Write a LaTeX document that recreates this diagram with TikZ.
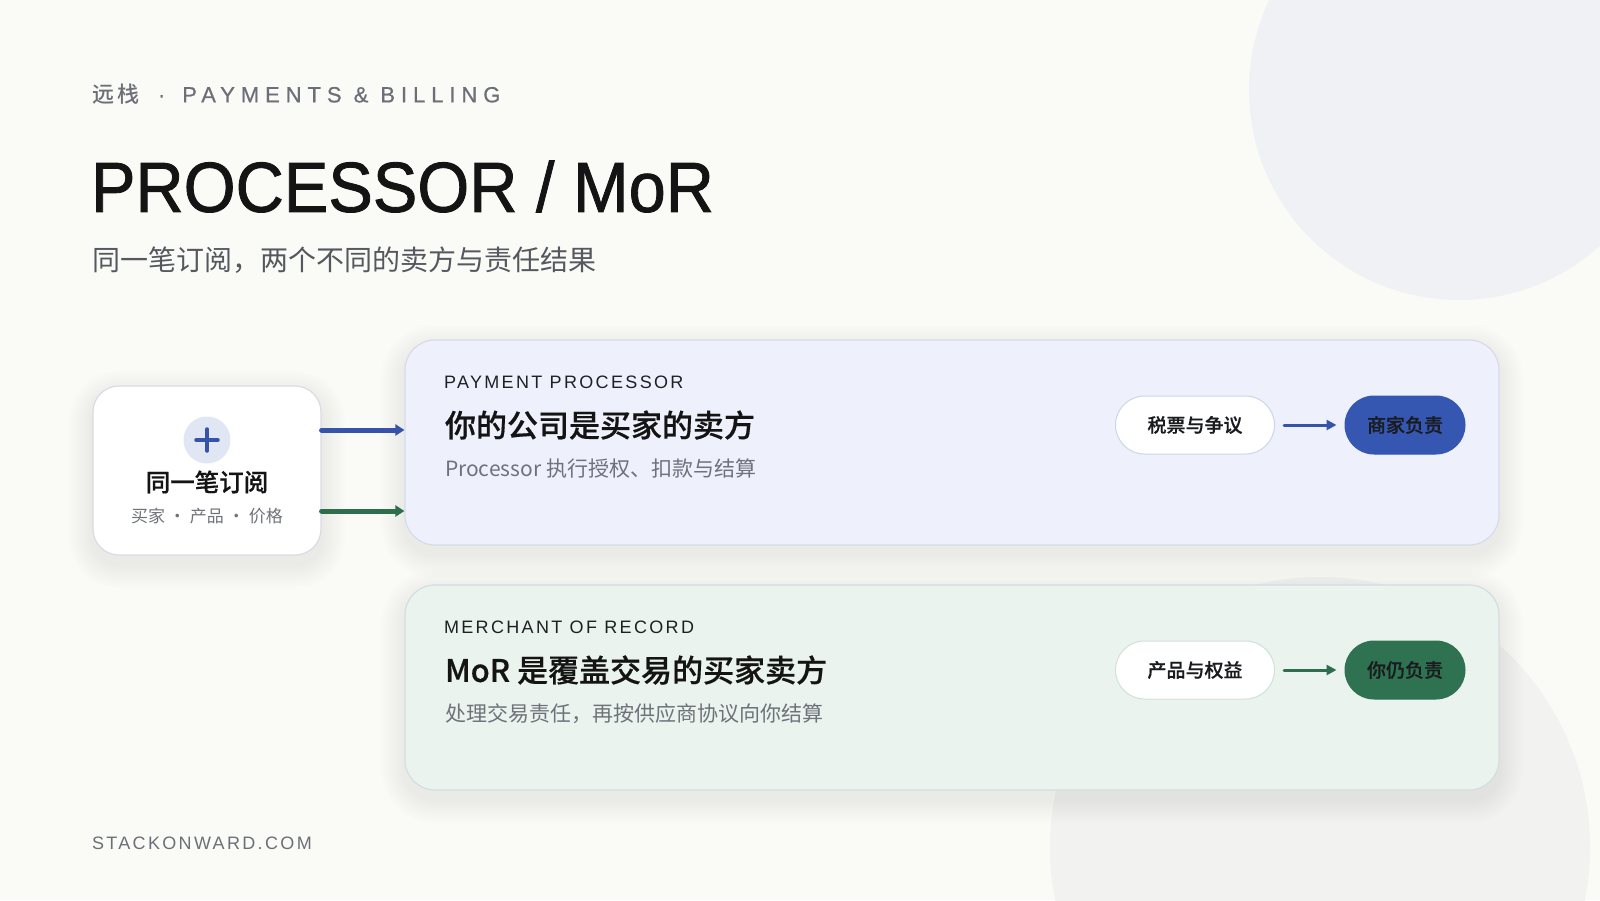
\documentclass[tikz,border=0pt]{standalone}
\usepackage{fontspec}
\setmainfont{Liberation Sans}
\newfontfamily\cjk{Noto Sans CJK SC}
\newfontfamily\cjkm[FakeBold=0.5]{Noto Sans CJK SC Medium}
\newfontfamily\cjkwide[LetterSpace=18]{Noto Sans CJK SC Medium}
\newfontfamily\trackA[LetterSpace=27,FakeBold=0.6]{Liberation Sans}
\newfontfamily\trackB[LetterSpace=13]{Liberation Sans}
\newfontfamily\titlefont[FakeBold=1.2]{Liberation Sans}
\usetikzlibrary{arrows.meta}
\pgfdeclarelayer{bottom}
\pgfdeclarelayer{shadow}
\pgfsetlayers{bottom,shadow,main}
\definecolor{bg}{HTML}{FAFAF6}
\definecolor{circA}{HTML}{F0F1F5}
\definecolor{circB}{HTML}{F2F3F0}
\definecolor{hdr}{HTML}{6C6F77}
\definecolor{ink}{HTML}{141414}
\definecolor{subc}{HTML}{55585F}
\definecolor{muted}{HTML}{6F727A}
\definecolor{lbl}{HTML}{1F2024}
\definecolor{ppfill}{HTML}{EEF1FC}
\definecolor{ppline}{HTML}{D5DBEB}
\definecolor{morfill}{HTML}{EAF3EE}
\definecolor{morline}{HTML}{D3DDE2}
\definecolor{srcline}{HTML}{D9DCE6}
\definecolor{ablue}{HTML}{3553A8}
\definecolor{pblue}{HTML}{3657B1}
\definecolor{agreen}{HTML}{2E6E4F}
\definecolor{pgreen}{HTML}{2F7251}
\definecolor{plusbg}{HTML}{E1E6F4}
\definecolor{pillline}{HTML}{CDD5EA}
\definecolor{pillline2}{HTML}{CFE2D8}
\definecolor{pilltext}{HTML}{1A1B1F}
\newcommand\mysoftshadow[2]{%
  \begin{pgfonlayer}{shadow}
  \foreach \i in {1,...,16} {
    \fill[black, opacity=0.0042, rounded corners=#2+1.5*\i]
      ([shift={(-1.5*\i,-1.5*\i+9)}]#1.north west) rectangle ([shift={(1.5*\i,1.5*\i+9)}]#1.south east);
  }
  \end{pgfonlayer}}
\tikzset{
  txt/.style={inner sep=0pt, outer sep=0pt},
  card/.style={rounded corners=30pt, line width=1.2pt, inner sep=0pt},
  pill/.style={rounded corners=29pt, minimum height=58pt, line width=1pt, inner sep=0pt,
    text=pilltext, font=\cjkm\fontsize{19}{22}\selectfont},
  bigarrow/.style={line width=5pt, line cap=round, -{Triangle[length=9pt,width=11pt]}},
  smallarrow/.style={line width=3pt, line cap=round, -{Triangle[length=10pt,width=10pt]},
    shorten <=9pt, shorten >=8pt}
}
\begin{document}
\begin{tikzpicture}[x=1pt,y=-1pt]
\useasboundingbox (0,0) rectangle (1600,900);
\begin{pgfonlayer}{bottom}
\fill[bg] (0,0) rectangle (1600,900);
\fill[circA] (1459,90) circle[radius=210];
\fill[circB] (1320,847) circle[radius=270];
\end{pgfonlayer}

% header
\node[txt, anchor=west, text=hdr, font=\fontsize{22}{26}\selectfont] (hdr) at (92,94)
  {{\cjkwide 远栈}\hspace{18pt}{\trackA ·\hspace{17pt}PAYMENTS \& BILLING}};
\node[txt, anchor=west, text=ink, font=\titlefont\fontsize{71}{80}\selectfont] (title) at (91,186.5)
  {\scalebox{0.94}[1]{PROCESSOR / MoR}};
\node[txt, anchor=west, text=subc, font=\cjk\fontsize{28}{32}\selectfont] (subtitle) at (92,260)
  {同一笔订阅，两个不同的卖方与责任结果};

% cards
\node[card, fill=ppfill, draw=ppline, minimum width=1094pt, minimum height=205pt] (pp) at (952,442.5) {};
\node[card, fill=morfill, draw=morline, minimum width=1094pt, minimum height=205pt] (mor) at (952,687.5) {};
\node[card, rounded corners=26pt, fill=white, draw=srcline, minimum width=228pt, minimum height=169pt] (src) at (207,470.5) {};
\mysoftshadow{pp}{30}
\mysoftshadow{mor}{30}
\mysoftshadow{src}{26}

% source card content
\node[circle, fill=plusbg, minimum size=47pt, inner sep=0pt] (plus) at (207,440) {};
\draw[ablue, line width=3.5pt, line cap=round] ([xshift=-11pt]plus.center) -- ([xshift=11pt]plus.center);
\draw[ablue, line width=3.5pt, line cap=round] ([yshift=-11pt]plus.center) -- ([yshift=11pt]plus.center);
\node[txt, text=ink, font=\cjkm\fontsize{24.5}{28}\selectfont] (srct) at (207,482) {同一笔订阅};
\node[txt, text=muted, font=\cjk\fontsize{17}{20}\selectfont] (srcs) at (207,516)
  {买家\hspace{4pt}·\hspace{4pt}产品\hspace{4pt}·\hspace{4pt}价格};

% arrows from source
\draw[bigarrow, ablue] ([yshift=40.5pt]src.east) -- ([yshift=12.5pt]pp.west);
\draw[bigarrow, agreen] ([yshift=-40.5pt]src.east) -- ([yshift=-68.5pt]pp.west);

% processor card
\node[txt, anchor=west, text=lbl, font=\trackB\fontsize{18}{20}\selectfont] (ppk) at (444,382) {PAYMENT PROCESSOR};
\node[txt, anchor=west, text=ink, font=\cjkm\fontsize{31}{34}\selectfont] (ppt) at (445,425) {你的公司是买家的卖方};
\node[txt, anchor=west, text=muted, font=\cjk\fontsize{21}{24}\selectfont] (pps) at (445,469) {Processor 执行授权、扣款与结算};
\node[pill, fill=white, draw=pillline, minimum width=159pt] (p1) at (1195,425) {税票与争议};
\node[pill, fill=pblue, draw=pblue, minimum width=120pt] (p2) at (1405,425) {商家负责};
\draw[smallarrow, ablue] (p1.east) -- (p2.west);

% MoR card
\node[txt, anchor=west, text=lbl, font=\trackB\fontsize{18}{20}\selectfont] (mork) at (444,627) {MERCHANT OF RECORD};
\node[txt, anchor=west, text=ink, font=\cjkm\fontsize{31}{34}\selectfont] (mort) at (445,670) {MoR 是覆盖交易的买家卖方};
\node[txt, anchor=west, text=muted, font=\cjk\fontsize{21}{24}\selectfont] (mors) at (445,714) {处理交易责任，再按供应商协议向你结算};
\node[pill, fill=white, draw=pillline2, minimum width=159pt] (p3) at (1195,670) {产品与权益};
\node[pill, fill=pgreen, draw=pgreen, minimum width=120pt] (p4) at (1405,670) {你仍负责};
\draw[smallarrow, agreen] (p3.east) -- (p4.west);

% footer
\node[txt, anchor=west, text=hdr, font=\trackB\fontsize{18}{20}\selectfont] (foot) at (92,843) {STACKONWARD.COM};
\end{tikzpicture}
\end{document}
